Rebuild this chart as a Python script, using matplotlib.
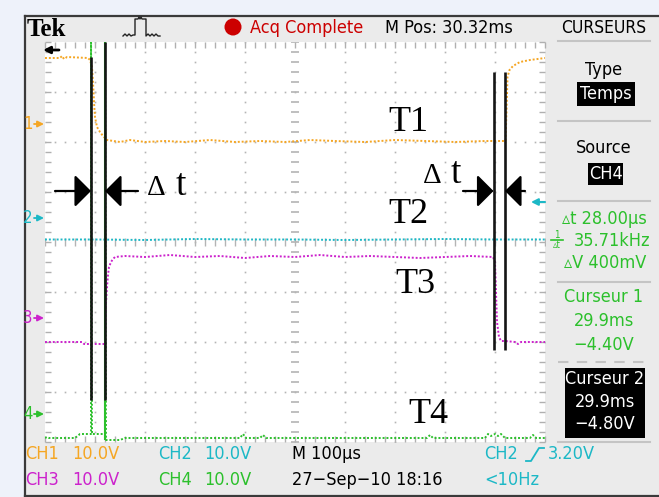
import numpy as np
import matplotlib.pyplot as plt
from matplotlib import font_manager
from matplotlib.patches import Rectangle, Circle
from matplotlib.ticker import MultipleLocator

# traces: time in us (100 us/div), level in screen divisions (0 = centre)
ch1_t = [0, 30, 34, 38, 44, 86, 90, 94, 96, 98, 100, 104, 110, 116, 124, 150, 170, 200, 240,
         280, 330, 380, 430, 480, 530, 580, 640, 700, 760, 820, 880, 921, 923, 925, 929, 936,
         950, 970, 1000]
ch1_v = [3.68, 3.68, 3.72, 3.66, 3.70, 3.68, 3.64, 3.50, 3.20, 2.80, 2.50, 2.30, 2.20, 2.12,
         2.04, 2.00, 2.04, 2.00, 2.02, 2.00, 2.04, 2.00, 2.02, 2.00, 2.04, 2.02, 2.00, 2.04,
         2.02, 2.00, 2.02, 2.02, 2.60, 3.30, 3.44, 3.52, 3.60, 3.64, 3.68]

ch2_t = [0, 100, 200, 300, 400, 500, 600, 700, 800, 900, 1000]
ch2_v = [0.05, 0.05, 0.04, 0.06, 0.05, 0.05, 0.04, 0.05, 0.06, 0.05, 0.05]

ch3_t = [0, 74, 78, 80, 120, 121, 122, 124, 126, 128, 132, 136, 140, 160, 200, 250, 300, 350,
         400, 450, 500, 550, 600, 650, 700, 750, 800, 850, 896, 900, 902, 904, 908, 912, 920,
         940, 946, 952, 1000]
ch3_v = [-2.00, -2.00, -2.04, -2.04, -2.04, -1.60, -1.22, -0.90, -0.66, -0.50, -0.40, -0.34,
         -0.30, -0.28, -0.30, -0.26, -0.30, -0.28, -0.32, -0.28, -0.30, -0.26, -0.30, -0.28,
         -0.30, -0.32, -0.30, -0.28, -0.30, -0.40, -1.00, -1.60, -1.90, -1.98, -1.98, -2.00,
         -2.04, -2.00, -2.00]

ch4_t = [0, 4, 8, 60, 70, 80, 90, 92, 92, 94, 110, 118, 120, 120, 122, 130, 140, 150, 160,
         390, 396, 402, 430, 436, 442, 764, 770, 776, 880, 886, 892, 900, 906, 912, 920, 970,
         976, 982, 1000]
ch4_v = [-3.92, -3.90, -3.92, -3.92, -3.84, -3.84, -3.84, -3.84, 4.50, -3.84, -3.84, -3.84,
         -3.84, 4.50, -3.96, -3.96, -3.96, -3.96, -3.92, -3.92, -3.84, -3.92, -3.92, -3.86,
         -3.92, -3.92, -3.86, -3.92, -3.92, -3.84, -3.88, -3.84, -3.88, -3.84, -3.92, -3.92,
         -3.86, -3.92, -3.92]
ch4_edge_t = 120      # solid (fast) edge of CH4

ch_ground = [2.36, 0.48, -1.52, -3.44]
trig_level = 0.80

# hand-drawn cursor lines and delta-t arrows
cur_left_t = [92, 120]
cur_left_top = [3.70, 4.00]
cur_left_bot = -3.16
cur_right_t = [897, 920]
cur_right_top = 3.40
cur_right_bot = -2.16
arrow_y = 1.02
arrow_left = [(20, 92), (186, 120)]
arrow_right = [(836, 897), (960, 920)]

# screen texts
panel_green = ['\u25b5t 28.00\u00b5s', '35.71kHz', '\u25b5V 400mV']
cursor1 = ['Curseur 1', '29.9ms', '\u22124.40V']
cursor2 = ['Curseur 2', '29.9ms', '\u22124.80V']
bottom_row1 = [('CH1', 25), ('10.0V', 72), ('CH2', 158), ('10.0V', 204), ('M 100\u00b5s', 292),
               ('CH2', 484), ('3.20V', 548)]
bottom_row2 = [('CH3', 25), ('10.0V', 72), ('CH4', 158), ('10.0V', 204),
               ('27\u2212Sep\u221210 18:16', 292), ('<10Hz', 484)]

ORANGE = '#f5a623'
CYAN = '#1cb8c6'
MAGENTA = '#cc22cc'
GREEN = '#2cc02c'
RED = '#cc0000'
GRAY = '#ebebeb'
DOTS = '#b4b4b4'

row1_colors = [ORANGE, ORANGE, CYAN, CYAN, 'black', CYAN, CYAN]
row2_colors = [MAGENTA, MAGENTA, GREEN, GREEN, 'black', CYAN]

# scope font: narrow sans if one is installed
entries = font_manager.fontManager.ttflist
names = {f.name for f in entries}
UI_STRETCH = 'normal'
if 'Liberation Sans Narrow' in names:
    UI = ['Liberation Sans Narrow', 'DejaVu Sans']
    FS = 14.5
elif any(f.name == 'DejaVu Sans' and f.stretch == 'condensed' for f in entries):
    UI = ['DejaVu Sans']
    UI_STRETCH = 'condensed'
    FS = 13.0
else:
    UI = ['DejaVu Sans']
    FS = 11.5
SERIF = ['Liberation Serif', 'DejaVu Serif']


def ui(axis, x, y, s, size=None, **kw):
    axis.text(x, y, s, family=UI, stretch=UI_STRETCH, fontsize=size or FS, va='center', **kw)


W, H = 659, 497
fig = plt.figure(figsize=(W / 100, H / 100), dpi=100)
fig.patch.set_facecolor('#eef2fa')

bg = fig.add_axes([0, 0, 1, 1], zorder=0)
bg.set_xlim(0, W)
bg.set_ylim(H, 0)
bg.axis('off')

# scope frame
bg.add_patch(Rectangle((25, 16), W - 25, 480, color=GRAY, lw=0))
bg.plot([25, W], [16, 16], color='#3a3a3a', lw=1.6)
bg.plot([25, 25], [16, 496], color='#3a3a3a', lw=1.6)
bg.plot([25, W], [495.5, 495.5], color='#3a3a3a', lw=1.6)

# header
bg.text(27, 29, 'Tek', family=SERIF, weight='bold', fontsize=18, va='center')
bg.plot([123, 125, 127, 129, 131, 133, 135, 135, 138, 139, 140, 141, 142, 143, 146, 146, 148, 150,
         152, 154, 156, 158, 160],
        [36, 34, 36, 34, 36, 35, 35, 19, 19, 17, 19, 17, 19, 19, 19, 36, 34, 36, 34, 36, 34, 36, 36],
        color='#222222', lw=1)
bg.add_patch(Circle((233, 27), 8.5, color=RED, lw=0))
ui(bg, 250, 28, 'Acq Complete', color=RED)
ui(bg, 385, 28, 'M Pos: 30.32ms', color='black')
ui(bg, 604, 28, 'CURSEURS', size=FS - 0.5, color='black', ha='center')

# right panel
for yy in [41, 121, 201, 282, 442]:
    bg.plot([558, 650], [yy, yy], color='#c4c4c4', lw=1.5)
bg.plot([558, 650], [362, 362], color='#c4c4c4', lw=1.5, ls=(0, (5, 4)))
ui(bg, 604, 70, 'Type', ha='center')
bg.add_patch(Rectangle((577, 82), 58, 24, color='black', lw=0))
ui(bg, 606, 94, 'Temps', color='white', ha='center')
ui(bg, 604, 148, 'Source', ha='center')
bg.add_patch(Rectangle((588, 163), 35, 22, color='black', lw=0))
ui(bg, 605.5, 174, 'CH4', color='white', ha='center')

ui(bg, 604, 219, panel_green[0], color=GREEN, ha='center')
ui(bg, 612, 241, panel_green[1], color=GREEN, ha='center')
ui(bg, 557, 235, '1', size=7, color=GREEN, ha='center')
bg.plot([551, 563], [239.5, 239.5], color=GREEN, lw=1.2)
ui(bg, 557, 245, '\u25b5t', size=7, color=GREEN, ha='center')
ui(bg, 605, 263, panel_green[2], color=GREEN, ha='center')
for s, yy in zip(cursor1, [297, 321, 345]):
    ui(bg, 604, yy, s, color=GREEN, ha='center')
bg.add_patch(Rectangle((565, 368), 80, 70, color='black', lw=0))
for s, yy in zip(cursor2, [379, 402, 424]):
    ui(bg, 605, yy, s, color='white', ha='center')

# bottom bar
for (s, x), c in zip(bottom_row1, row1_colors):
    ui(bg, x, 454, s, color=c)
for (s, x), c in zip(bottom_row2, row2_colors):
    ui(bg, x, 480, s, color=c)
bg.plot([526, 531, 539, 544], [461, 461, 448, 448], color=CYAN, lw=1.3)

# graticule
ax = fig.add_axes([45 / W, 1 - 442 / H, 500 / W, 400 / H], zorder=1)
ax.set_facecolor('white')
ax.set_xlim(0, 1000)
ax.set_ylim(-4, 4)
for sp in ax.spines.values():
    sp.set_visible(False)
ax.xaxis.set_major_locator(MultipleLocator(100))
ax.xaxis.set_minor_locator(MultipleLocator(20))
ax.yaxis.set_major_locator(MultipleLocator(1))
ax.yaxis.set_minor_locator(MultipleLocator(0.2))
ax.tick_params(which='both', direction='in', length=4, width=1, color='#b0b0b0',
               top=True, right=True, labelbottom=False, labelleft=False)

fine_y = np.arange(-4, 4.001, 0.2)
fine_x = np.arange(0, 1000.1, 20)
for gx in range(100, 1000, 100):
    if gx != 500:
        ax.plot(np.full_like(fine_y, gx), fine_y, ls='none', marker='s', ms=1.2, mew=0, color=DOTS)
for gy in [-3, -2, -1, 1, 2, 3]:
    ax.plot(fine_x, np.full_like(fine_x, gy), ls='none', marker='s', ms=1.2, mew=0, color=DOTS)
ax.plot(np.full_like(fine_y, 500), fine_y, ls='none', marker='_', ms=6, mew=1.2, color=DOTS)
ax.plot(fine_x, np.zeros_like(fine_x), ls='none', marker='|', ms=6, mew=1.0, color=DOTS)

# traces
dot = (0, (1, 1))
ax.plot(ch1_t, ch1_v, color=ORANGE, lw=1.4, ls=dot)
ax.plot(ch2_t, ch2_v, color=CYAN, lw=1.4, ls=dot)
ax.plot(ch3_t, ch3_v, color=MAGENTA, lw=1.4, ls=dot)
ax.plot(ch4_t, ch4_v, color=GREEN, lw=1.4, ls=dot)
ax.vlines(ch4_edge_t, min(ch4_v), max(ch4_v), color=GREEN, lw=1.5)

# channel ground markers
yt = ax.get_yaxis_transform()
for i, (g, c) in enumerate(zip(ch_ground, [ORANGE, CYAN, MAGENTA, GREEN])):
    ax.text(-0.034, g, str(i + 1), transform=yt, family=UI, stretch=UI_STRETCH, fontsize=FS - 1,
            color=c, va='center', ha='center', clip_on=False)
    ax.annotate('', xy=(-0.002, g), xytext=(-0.022, g), xycoords=yt, textcoords=yt,
                arrowprops=dict(arrowstyle='-|>', color=c, lw=1.3, mutation_scale=9,
                                shrinkA=0, shrinkB=0), annotation_clip=False)
ax.annotate('', xy=(972, trig_level), xytext=(1000, trig_level),
            arrowprops=dict(arrowstyle='-|>', color=CYAN, lw=1.5, mutation_scale=10,
                            shrinkA=0, shrinkB=0))
ax.annotate('', xy=(-4, 3.84), xytext=(28, 3.84),
            arrowprops=dict(arrowstyle='-|>', color='black', lw=2, mutation_scale=10,
                            shrinkA=0, shrinkB=0), annotation_clip=False)

# hand-drawn cursors and arrows
for t, top in zip(cur_left_t, cur_left_top):
    ax.vlines(t, cur_left_bot, top, color='#151515', lw=1.9, zorder=4)
ax.vlines(cur_right_t, cur_right_bot, cur_right_top, color='#151515', lw=1.9, zorder=4)
for x0, x1 in arrow_left + arrow_right:
    ax.annotate('', xy=(x1, arrow_y), xytext=(x0, arrow_y),
                arrowprops=dict(arrowstyle='-|>,head_length=0.5,head_width=0.5', color='black',
                                lw=1.6, mutation_scale=20, shrinkA=0, shrinkB=0), zorder=5)

ov = fig.add_axes([0, 0, 1, 1], zorder=2)
ov.set_xlim(0, W)
ov.set_ylim(H, 0)
ov.axis('off')
ov.patch.set_alpha(0)
ov.text(147, 195, '\u0394', family=SERIF, fontsize=21, va='baseline')
ov.text(176, 195, 't', family=SERIF, fontsize=27, va='baseline')
ov.text(423, 183, '\u0394', family=SERIF, fontsize=21, va='baseline')
ov.text(451, 183, 't', family=SERIF, fontsize=27, va='baseline')
for s, x, y in zip(['T1', 'T2', 'T3', 'T4'], [388, 388, 395, 408], [131, 223, 293, 423]):
    ov.text(x, y, s, family=SERIF, fontsize=26, va='baseline')

fig.savefig('out.png', dpi=100)
